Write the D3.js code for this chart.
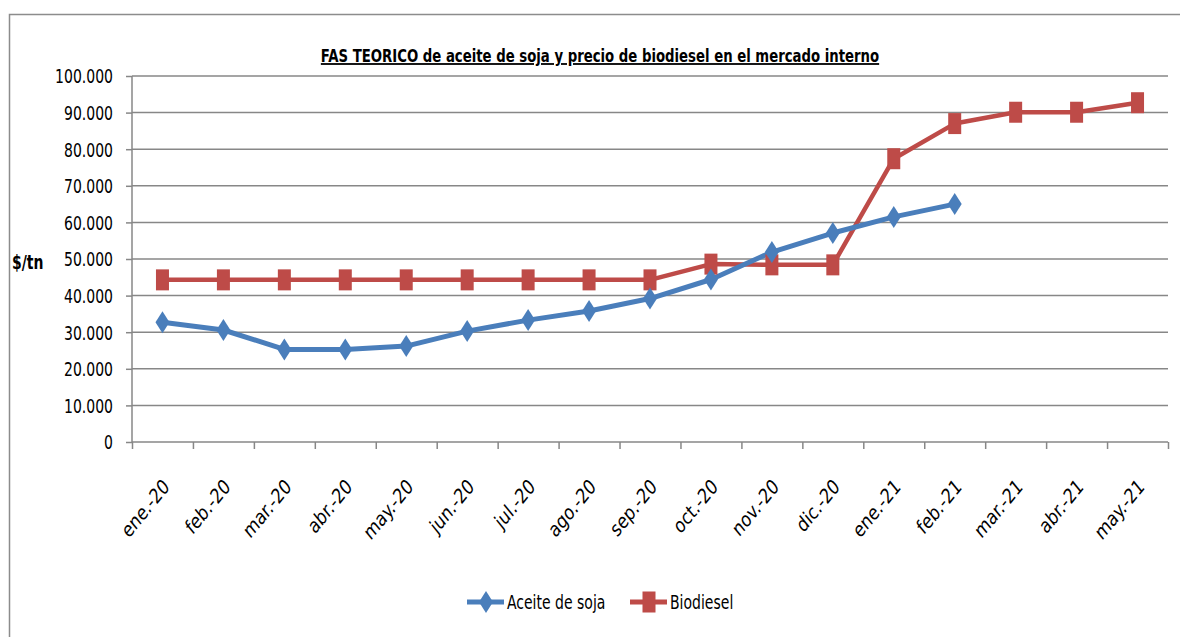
<!DOCTYPE html>
<html>
<head>
<meta charset="utf-8">
<script src="https://cdn.jsdelivr.net/npm/d3@7"></script>
<style>
  body { margin: 0; background: #fff; }
  text { font-family: "DejaVu Sans Condensed", "Liberation Sans", sans-serif; font-stretch: condensed; fill: #000; }
</style>
</head>
<body>
<div id="chart"></div>
<script>
// ---- data ----
var months = ["ene.-20","feb.-20","mar.-20","abr.-20","may.-20","jun.-20","jul.-20","ago.-20","sep.-20",
              "oct.-20","nov.-20","dic.-20","ene.-21","feb.-21","mar.-21","abr.-21","may.-21"];
var aceite = [32700, 30600, 25300, 25300, 26200, 30300, 33300, 35800, 39200, 44400, 51900, 57100, 61500, 65000,
              null, null, null];
var biodiesel = [44300, 44300, 44300, 44300, 44300, 44300, 44300, 44300, 44300, 48600, 48400, 48400, 77400, 87000,
                 90100, 90100, 92700];
var yTicks = [0, 10000, 20000, 30000, 40000, 50000, 60000, 70000, 80000, 90000, 100000];

var width = 1180, height = 637;
var plot = {left: 132, right: 1168, top: 76, bottom: 442};
var squeeze = 0.82; // text in the original is narrow (Calibri-like)

var svg = d3.select("#chart").append("svg")
  .attr("width", width).attr("height", height);

// outer frame
svg.append("rect")
  .attr("x", 9.5).attr("y", 14.5).attr("width", width).attr("height", height)
  .attr("fill", "none").attr("stroke", "#8c8c8c").attr("stroke-width", 1.5);

var x = d3.scaleBand().domain(months).range([plot.left, plot.right]).paddingInner(0).paddingOuter(0);
var xEdge = d3.scaleLinear().domain([0, months.length]).range([plot.left, plot.right]);
var y = d3.scaleLinear().domain([0, 100000]).range([plot.bottom, plot.top]);
var cx = function(d, i) { return x(months[i]) + x.bandwidth() / 2; };

// gridlines
svg.append("g").selectAll("line")
  .data(yTicks.filter(function(d) { return d > 0; }))
  .enter().append("line")
  .attr("x1", plot.left).attr("x2", plot.right)
  .attr("y1", function(d) { return y(d); }).attr("y2", function(d) { return y(d); })
  .attr("stroke", "#878787").attr("stroke-width", 1.5);

// y axis
var yAxis = svg.append("g")
  .attr("transform", "translate(" + plot.left + ",0)")
  .call(d3.axisLeft(y).tickValues(yTicks).tickSize(6)
    .tickFormat(function(d) { return d === 0 ? "0" : d3.format(",")(d).replace(/,/g, "."); }));
yAxis.select(".domain").attr("stroke", "#878787").attr("stroke-width", 1.5).attr("d", "M0," + plot.top + "V" + plot.bottom);
yAxis.selectAll(".tick line").attr("stroke", "#878787").attr("stroke-width", 1.5);
yAxis.selectAll("text")
  .attr("x", 0).attr("dy", "0.36em")
  .attr("transform", "translate(-19,0) scale(" + squeeze + ",1)")
  .style("font-size", "19px").attr("fill", "#000");

// x axis (ticks on category boundaries)
var xAxis = svg.append("g")
  .attr("transform", "translate(0," + plot.bottom + ")")
  .call(d3.axisBottom(xEdge).tickValues(d3.range(months.length + 1)).tickSize(7).tickFormat(""));
xAxis.select(".domain").attr("stroke", "#878787").attr("stroke-width", 1.5).attr("d", "M" + plot.left + ",0H" + plot.right);
xAxis.selectAll(".tick line").attr("stroke", "#878787").attr("stroke-width", 1.5);

// x labels, rotated
svg.append("g").selectAll("text")
  .data(months).enter().append("text")
  .attr("transform", function(d, i) {
    return "translate(" + (cx(d, i) + 8) + ",488) scale(" + squeeze + ",1) rotate(-45)";
  })
  .attr("text-anchor", "end")
  .style("font-size", "21px")
  .text(function(d) { return d; });

// y title
svg.append("text")
  .attr("transform", "translate(12,269) scale(" + squeeze + ",1)")
  .style("font-size", "19px").style("font-weight", "bold")
  .text("$/tn");

// chart title
svg.append("text")
  .attr("transform", "translate(600,62) scale(" + squeeze + ",1)")
  .attr("text-anchor", "middle")
  .style("font-size", "18px").style("font-weight", "bold")
  .style("text-decoration", "underline")
  .text("FAS TEORICO de aceite de soja y precio de biodiesel en el mercado interno");

var blue = "#4a7ebb", red = "#be4b48";

var line = d3.line()
  .defined(function(d) { return d != null; })
  .x(function(d, i) { return cx(d, i); })
  .y(function(d) { return y(d); });

svg.append("path").datum(biodiesel)
  .attr("d", line).attr("fill", "none").attr("stroke", red).attr("stroke-width", 4.5)
  .attr("stroke-linejoin", "round");
svg.append("path").datum(aceite)
  .attr("d", line).attr("fill", "none").attr("stroke", blue).attr("stroke-width", 5)
  .attr("stroke-linejoin", "round");

var diamond = "M0,-11L7,0L0,11L-7,0Z";

svg.append("g").selectAll("rect")
  .data(biodiesel).enter().append("rect")
  .filter(function(d) { return d != null; })
  .attr("x", function(d, i) { return cx(d, i) - 6.5; })
  .attr("y", function(d) { return y(d) - 10.5; })
  .attr("width", 13).attr("height", 21)
  .attr("fill", red);

svg.append("g").selectAll("path")
  .data(aceite).enter().append("path")
  .filter(function(d) { return d != null; })
  .attr("transform", function(d, i) { return "translate(" + cx(d, i) + "," + y(d) + ")"; })
  .attr("d", diamond)
  .attr("fill", blue);

// legend
var series = [
  {name: "Aceite de soja", color: blue, x: 467, marker: "diamond"},
  {name: "Biodiesel", color: red, x: 630, marker: "square"}
];
var item = svg.append("g").selectAll("g").data(series).enter().append("g")
  .attr("transform", function(d) { return "translate(" + d.x + ",602)"; });
item.append("line").attr("x1", 0).attr("x2", 37)
  .attr("stroke", function(d) { return d.color; }).attr("stroke-width", 5);
item.filter(function(d) { return d.marker === "diamond"; }).append("path")
  .attr("transform", "translate(19,0)").attr("d", diamond).attr("fill", blue);
item.filter(function(d) { return d.marker === "square"; }).append("rect")
  .attr("x", 12.5).attr("y", -10.5).attr("width", 13).attr("height", 21).attr("fill", red);
item.append("text")
  .attr("transform", "translate(40,0) scale(" + squeeze + ",1)")
  .attr("dy", "0.35em")
  .style("font-size", "19px")
  .text(function(d) { return d.name; });
</script>
</body>
</html>
